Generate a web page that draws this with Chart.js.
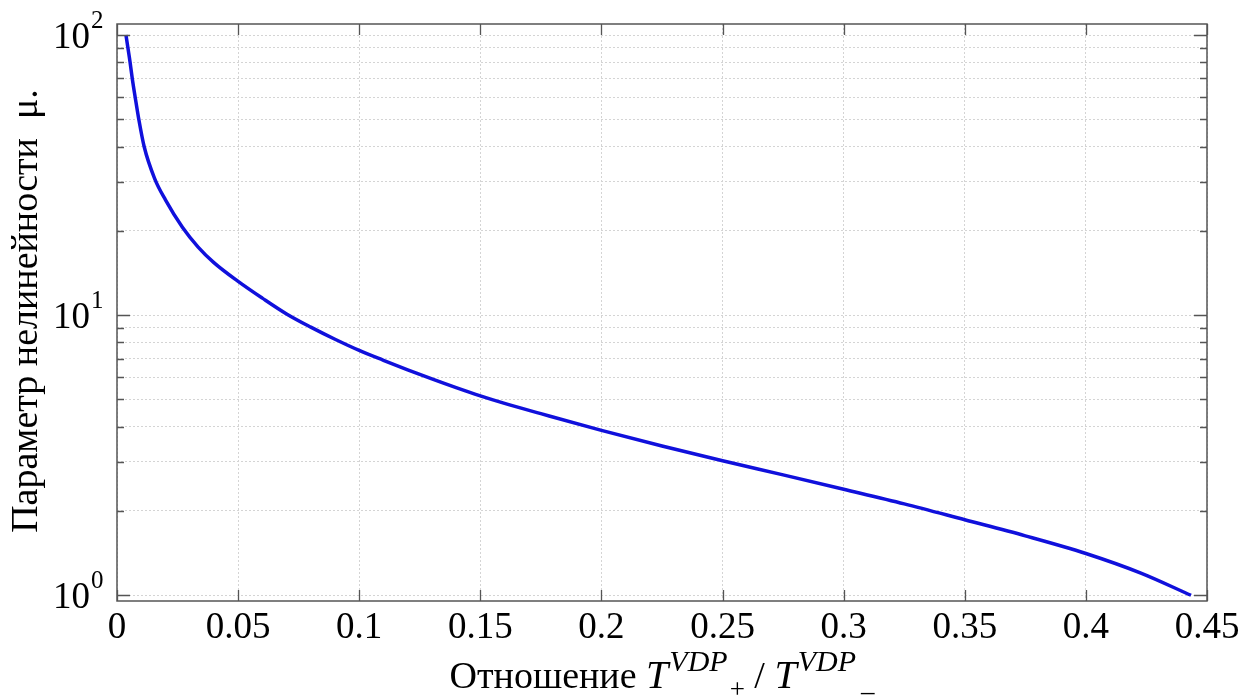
<!DOCTYPE html>
<html>
<head>
<meta charset="utf-8">
<script src="https://cdn.jsdelivr.net/npm/chart.js@4/dist/chart.umd.min.js"></script>
<style>
  body { margin: 0; background: #fff; }
  canvas { display: block; }
</style>
</head>
<body>
<canvas id="chart" width="1257" height="698"></canvas>
<script>
// ratio T+/T- (x) and nonlinearity parameter mu (y)
var ratio = [0.0037, 0.0045, 0.0054, 0.0063, 0.0075, 0.009, 0.0112, 0.0155, 0.02, 0.027,
             0.0335, 0.04, 0.05, 0.06, 0.07, 0.08, 0.09, 0.1, 0.11, 0.12,
             0.13, 0.14, 0.15, 0.16, 0.175, 0.2, 0.225, 0.25, 0.275, 0.3,
             0.325, 0.35, 0.375, 0.4, 0.4227, 0.4434];
var mu = [100, 90, 80, 70, 60, 50, 40, 30.8, 25.8, 20.6,
          17.5, 15.4, 13.2, 11.5, 10.1, 9.06, 8.2, 7.48, 6.9, 6.38,
          5.92, 5.51, 5.15, 4.84, 4.45, 3.88, 3.41, 3.02, 2.69, 2.39,
          2.12, 1.86, 1.63, 1.41, 1.2, 1.0];

var yGrid = [1, 2, 3, 4, 5, 6, 7, 8, 9, 10, 20, 30, 40, 50, 60, 70, 80, 90, 100];
var yLabels = [[1, "0"], [10, "1"], [100, "2"]];
var xTicks = [0, 0.05, 0.1, 0.15, 0.2, 0.25, 0.3, 0.35, 0.4, 0.45];

var serif = "'Liberation Serif', 'Times New Roman', serif";

var points = ratio.map(function (r, i) { return { x: r, y: mu[i] }; });

var frame = {
  id: "frame",
  afterDraw: function (chart) {
    var ctx = chart.ctx;
    var a = chart.chartArea;
    var xs = chart.scales.x, ys = chart.scales.y;
    ctx.save();

    // ticks pointing inward
    ctx.strokeStyle = "#555";
    ctx.lineWidth = 1.3;
    ctx.beginPath();
    xTicks.forEach(function (v) {
      var px = Math.round(xs.getPixelForValue(v)) + 0.5;
      ctx.moveTo(px, a.bottom); ctx.lineTo(px, a.bottom - 11);
      ctx.moveTo(px, a.top); ctx.lineTo(px, a.top + 11);
    });
    yGrid.forEach(function (v) {
      var py = Math.round(ys.getPixelForValue(v)) + 0.5;
      var len = (v === 1 || v === 10 || v === 100) ? 13 : 7;
      ctx.moveTo(a.left, py); ctx.lineTo(a.left + len, py);
      ctx.moveTo(a.right, py); ctx.lineTo(a.right - len, py);
    });
    ctx.stroke();

    // box
    ctx.lineWidth = 1.5;
    ctx.strokeRect(a.left, a.top, a.right - a.left, a.bottom - a.top);

    // y labels 10^n
    ctx.fillStyle = "#000";
    ctx.textAlign = "left";
    ctx.textBaseline = "alphabetic";
    yLabels.forEach(function (l) {
      var py = ys.getPixelForValue(l[0]);
      ctx.font = "37px " + serif;
      ctx.fillText("10", 53, py + 13);
      var w = ctx.measureText("10").width;
      ctx.font = "25px " + serif;
      ctx.fillText(l[1], 53 + w + 1, py - 7);
    });

    // y title
    ctx.save();
    ctx.translate(37, 311);
    ctx.rotate(-Math.PI / 2);
    ctx.textAlign = "center";
    ctx.font = "38px " + serif;
    ctx.fillText("Параметр нелинейности  μ.", 0, 0);
    ctx.restore();

    // x title with super/subscripts
    var parts = [
      { t: "Отношение ", f: "38px " + serif, dy: 0 },
      { t: "T", f: "italic 40px " + serif, dy: 0 },
      { t: "VDP", f: "italic 30px " + serif, dy: -17, gap: 1 },
      { t: "+", f: "27px " + serif, dy: 10, gap: 2 },
      { t: " / ", f: "38px " + serif, dy: 0 },
      { t: "T", f: "italic 40px " + serif, dy: 0 },
      { t: "VDP", f: "italic 30px " + serif, dy: -17, gap: 1 },
      { t: "\u2013", f: "27px " + serif, dy: 12, gap: 5 }
    ];
    var total = 0;
    parts.forEach(function (p) {
      ctx.font = p.f;
      p.w = ctx.measureText(p.t).width;
      total += p.w + (p.gap || 0);
    });
    var x = 662 - total / 2;
    var base = 688;
    parts.forEach(function (p) {
      ctx.font = p.f;
      x += (p.gap || 0);
      ctx.fillText(p.t, x, base + p.dy);
      x += p.w;
    });

    ctx.restore();
  }
};

new Chart(document.getElementById("chart"), {
  type: "line",
  data: {
    datasets: [{
      data: points,
      borderColor: "#1010dc",
      borderWidth: 3.5,
      pointRadius: 0,
      fill: false,
      cubicInterpolationMode: "monotone"
    }]
  },
  options: {
    responsive: false,
    animation: false,
    layout: { padding: { top: 24, right: 50, left: 0, bottom: 0 } },
    plugins: { legend: { display: false }, tooltip: { enabled: false } },
    scales: {
      x: {
        type: "linear",
        min: 0,
        max: 0.45,
        afterBuildTicks: function (s) { s.ticks = xTicks.map(function (v) { return { value: v }; }); },
        afterFit: function (s) { s.height = 97; },
        grid: { color: "#d4d4d4", lineWidth: 1, drawTicks: false },
        border: { display: false, dash: [2, 2] },
        ticks: {
          padding: 5,
          color: "#000",
          font: { family: serif, size: 37 },
          maxRotation: 0,
          autoSkip: false,
          callback: function (v) { return String(Number(v.toFixed(2))); }
        }
      },
      y: {
        type: "logarithmic",
        min: 0.954,
        max: 109.5,
        afterBuildTicks: function (s) { s.ticks = yGrid.map(function (v) { return { value: v }; }); },
        afterFit: function (s) { s.width = 117; },
        grid: { color: "#d4d4d4", lineWidth: 1, drawTicks: false },
        border: { display: false, dash: [2, 2] },
        ticks: { display: false }
      }
    }
  },
  plugins: [frame]
});
</script>
</body>
</html>
